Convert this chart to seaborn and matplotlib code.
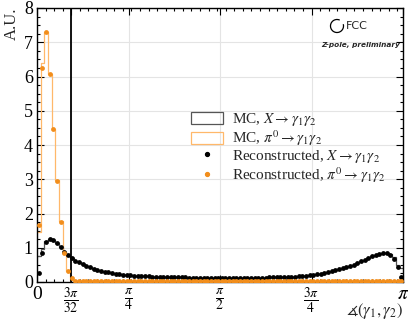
import numpy as np
import pandas as pd
import seaborn as sns
import matplotlib
matplotlib.use("Agg")
import matplotlib.pyplot as plt
from matplotlib.patches import Patch, Arc
from matplotlib.lines import Line2D
from matplotlib.ticker import FixedLocator, MultipleLocator

# Opening angle between the two photons, 100 bins over [0, pi]
n_bins = 100

reco_x = [
    0.27, 0.86, 1.18, 1.26, 1.23, 1.15, 1.01, 0.89, 0.79, 0.69,
    0.62, 0.57, 0.52, 0.48, 0.43, 0.39, 0.36, 0.33, 0.30, 0.28,
    0.26, 0.245, 0.23, 0.215, 0.205, 0.195, 0.185, 0.178, 0.172, 0.166,
    0.161, 0.157, 0.153, 0.150, 0.147, 0.144, 0.141, 0.139, 0.137, 0.135,
    0.133, 0.131, 0.130, 0.128, 0.127, 0.126, 0.125, 0.124, 0.124, 0.123,
    0.122, 0.122, 0.121, 0.121, 0.121, 0.122, 0.122, 0.123, 0.124, 0.125,
    0.126, 0.128, 0.130, 0.132, 0.134, 0.137, 0.140, 0.143, 0.147, 0.152,
    0.160, 0.170, 0.178, 0.185, 0.195, 0.205, 0.22, 0.235, 0.255, 0.28,
    0.31, 0.34, 0.37, 0.40, 0.44, 0.47, 0.51, 0.55, 0.60, 0.65,
    0.70, 0.75, 0.79, 0.83, 0.855, 0.86, 0.80, 0.68, 0.44, 0.15,
]

mc_x = [
    0.75, 0.95, 1.20, 1.25, 1.23, 1.15, 1.01, 0.89, 0.79, 0.69,
    0.62, 0.57, 0.52, 0.48, 0.43, 0.39, 0.36, 0.33, 0.30, 0.28,
    0.26, 0.245, 0.23, 0.215, 0.205, 0.195, 0.185, 0.178, 0.172, 0.166,
    0.161, 0.157, 0.153, 0.150, 0.147, 0.144, 0.141, 0.139, 0.137, 0.135,
    0.133, 0.131, 0.130, 0.128, 0.127, 0.126, 0.125, 0.124, 0.124, 0.123,
    0.122, 0.122, 0.121, 0.121, 0.121, 0.122, 0.122, 0.123, 0.124, 0.125,
    0.126, 0.128, 0.130, 0.132, 0.134, 0.137, 0.140, 0.143, 0.147, 0.152,
    0.160, 0.170, 0.178, 0.185, 0.195, 0.205, 0.22, 0.235, 0.255, 0.28,
    0.31, 0.34, 0.37, 0.40, 0.44, 0.47, 0.51, 0.55, 0.60, 0.65,
    0.70, 0.75, 0.79, 0.83, 0.855, 0.86, 0.82, 0.72, 0.50, 0.40,
]

reco_pi0 = [
    1.66, 6.24, 7.31, 6.07, 4.46, 2.96, 1.76, 0.86, 0.32, 0.11,
    0.03, 0.02, 0.02, 0.02, 0.02, 0.02, 0.02, 0.02, 0.02, 0.02,
    0.02, 0.02, 0.02, 0.02, 0.02, 0.02, 0.02, 0.02, 0.02, 0.02,
    0.02, 0.02, 0.02, 0.02, 0.02, 0.02, 0.02, 0.02, 0.02, 0.02,
    0.02, 0.02, 0.02, 0.02, 0.02, 0.02, 0.02, 0.02, 0.02, 0.02,
    0.02, 0.02, 0.02, 0.02, 0.02, 0.02, 0.02, 0.02, 0.02, 0.02,
    0.02, 0.02, 0.02, 0.02, 0.02, 0.02, 0.02, 0.02, 0.02, 0.02,
    0.02, 0.02, 0.02, 0.02, 0.02, 0.02, 0.02, 0.02, 0.02, 0.02,
    0.02, 0.02, 0.02, 0.02, 0.02, 0.02, 0.02, 0.02, 0.02, 0.02,
    0.02, 0.02, 0.02, 0.02, 0.02, 0.02, 0.02, 0.02, 0.02, 0.02,
]

mc_pi0 = [
    1.47, 6.38, 7.31, 6.07, 4.46, 2.98, 1.78, 0.88, 0.33, 0.05,
    0.02, 0.02, 0.02, 0.02, 0.02, 0.02, 0.02, 0.02, 0.02, 0.02,
    0.02, 0.02, 0.02, 0.02, 0.02, 0.02, 0.02, 0.02, 0.02, 0.02,
    0.02, 0.02, 0.02, 0.02, 0.02, 0.02, 0.02, 0.02, 0.02, 0.02,
    0.02, 0.02, 0.02, 0.02, 0.02, 0.02, 0.02, 0.02, 0.02, 0.02,
    0.02, 0.02, 0.02, 0.02, 0.02, 0.02, 0.02, 0.02, 0.02, 0.02,
    0.02, 0.02, 0.02, 0.02, 0.02, 0.02, 0.02, 0.02, 0.02, 0.02,
    0.02, 0.02, 0.02, 0.02, 0.02, 0.02, 0.02, 0.02, 0.02, 0.02,
    0.02, 0.02, 0.02, 0.02, 0.02, 0.02, 0.02, 0.02, 0.02, 0.02,
    0.02, 0.02, 0.02, 0.02, 0.02, 0.02, 0.02, 0.02, 0.02, 0.02,
]

tick_values = [0, 3 * np.pi / 32, np.pi / 4, np.pi / 2, 3 * np.pi / 4, np.pi]
tick_labels = ["0", r"$\frac{3\pi}{32}$", r"$\frac{\pi}{4}$", r"$\frac{\pi}{2}$",
               r"$\frac{3\pi}{4}$", r"$\pi$"]

legend_labels = [
    r"MC, $X \rightarrow \gamma_1\gamma_2$",
    r"MC, $\pi^0 \rightarrow \gamma_1\gamma_2$",
    r"Reconstructed, $X \rightarrow \gamma_1\gamma_2$",
    r"Reconstructed, $\pi^0 \rightarrow \gamma_1\gamma_2$",
]

edges = np.linspace(0, np.pi, n_bins + 1)
centers = 0.5 * (edges[:-1] + edges[1:])
df = pd.DataFrame({
    "angle": centers,
    "reco_x": reco_x, "mc_x": mc_x,
    "reco_pi0": reco_pi0, "mc_pi0": mc_pi0,
})

sns.set_theme(style="ticks")
plt.rcParams["font.family"] = ["Liberation Serif", "DejaVu Serif"]
plt.rcParams["mathtext.fontset"] = "stix"

black = "#000000"
orange = "#f28e1c"
orange_light = "#ffb86a"

fig = plt.figure(figsize=(4.08, 3.22), dpi=100)
ax = fig.add_axes([37 / 408, 1 - 282 / 322, 366 / 408, 274 / 322])

ax.grid(True, color="#e4e4e4", linewidth=0.8, zorder=0)
ax.set_axisbelow(True)

sns.histplot(data=df, x="angle", weights="mc_x", bins=n_bins,
             binrange=(0, np.pi), element="step", fill=False,
             color="#555555", linewidth=0.9, ax=ax, zorder=2)
sns.histplot(data=df, x="angle", weights="mc_pi0", bins=n_bins,
             binrange=(0, np.pi), element="step", fill=False,
             color=orange_light, linewidth=0.9, ax=ax, zorder=2)
sns.scatterplot(data=df, x="angle", y="reco_x", color=black, s=12,
                linewidth=0, ax=ax, zorder=4)
sns.scatterplot(data=df, x="angle", y="reco_pi0", color=orange, s=12,
                linewidth=0, ax=ax, zorder=4)

ax.axvline(3 * np.pi / 32, color=black, linewidth=1.3, zorder=3)

ax.set_xlim(0, np.pi)
ax.set_ylim(0, 8)
ax.xaxis.set_major_locator(FixedLocator(tick_values))
ax.set_xticklabels(tick_labels)
ax.xaxis.set_minor_locator(MultipleLocator(3 * np.pi / 128))
ax.yaxis.set_major_locator(MultipleLocator(1))
ax.yaxis.set_minor_locator(MultipleLocator(0.25))
ax.tick_params(which="both", direction="in", top=True, right=True,
               colors=black, labelsize=13, width=0.8)
ax.tick_params(which="major", length=5, pad=3)
ax.tick_params(which="minor", length=2.5)
for lbl in ax.get_xticklabels():
    lbl.set_fontsize(14)
for s in ax.spines.values():
    s.set_linewidth(1.0)
    s.set_color(black)

ax.set_xlabel(r"$\measuredangle(\gamma_1, \gamma_2)$", fontsize=12,
              ha="right", va="top")
ax.xaxis.set_label_coords(1.0, -0.07)
ax.set_ylabel("A.U.", fontsize=12, ha="right", va="center")
ax.yaxis.set_label_coords(-0.068, 1.0)

handles = [
    Patch(facecolor="none", edgecolor="#555555", linewidth=0.9),
    Patch(facecolor="none", edgecolor=orange_light, linewidth=0.9),
    Line2D([], [], linestyle="none", marker="o", markersize=2.8,
           color=black),
    Line2D([], [], linestyle="none", marker="o", markersize=2.8,
           color=orange),
]
ax.legend(handles, legend_labels, loc="upper left",
          bbox_to_anchor=(0.405, 0.645), frameon=False, fontsize=11,
          handlelength=2.1, handleheight=0.8, handletextpad=0.55,
          labelspacing=0.0, borderaxespad=0)

# FCC label in the top-right corner
fig.add_artist(Arc((337 / 408, 1 - 26 / 322), 13 / 408, 13 / 322,
                   theta1=70, theta2=380, transform=fig.transFigure,
                   color=black, linewidth=0.9))
fig.text(345.5 / 408, 1 - 26 / 322, "FCC", family="DejaVu Sans",
         fontsize=8, va="center", ha="left")
fig.text(361 / 408, 1 - 45 / 322, "Z-pole, preliminary", family="DejaVu Sans",
         fontsize=5.3, fontweight="bold", style="italic",
         va="center", ha="center")

fig.savefig("out.png", dpi=100)
